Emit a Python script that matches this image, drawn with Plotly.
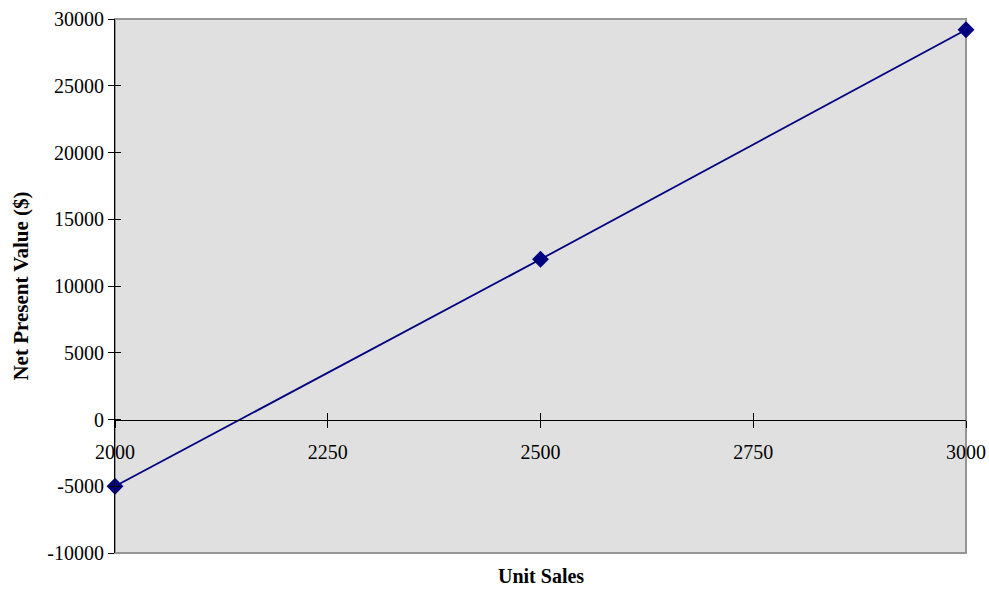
import plotly.graph_objects as go

# Net present value at three unit-sales levels
unit_sales = [2000, 2500, 3000]
npv = [-5000, 12000, 29200]

x_ticks = [2000, 2250, 2500, 2750, 3000]
x_tick_text = ["2000", "2250", "2500", "2750", "3000"]
y_ticks = [-10000, -5000, 0, 5000, 10000, 15000, 20000, 25000, 30000]
y_tick_text = ["-10000", "-5000", "0", "5000", "10000", "15000", "20000", "25000", "30000"]

x_range = [2000, 3000]
y_range = [-10000, 30000]

FONT = "Liberation Serif, Times New Roman, serif"
NAVY = "#000080"

fig = go.Figure()

fig.add_trace(go.Scatter(
    x=unit_sales, y=npv,
    mode="lines+markers",
    line=dict(color=NAVY, width=1.8),
    marker=dict(symbol="diamond", size=13, color=NAVY),
    cliponaxis=False,
    showlegend=False,
    hoverinfo="x+y",
))

# empty trace so the overlay axes (inward half of the crossing ticks) are drawn
fig.add_trace(go.Scatter(x=[], y=[], xaxis="x2", yaxis="y2", showlegend=False))

# position of y = 0 as a fraction of the plot height
zero_pos = (0 - y_range[0]) / (y_range[1] - y_range[0])

fig.update_layout(
    width=989, height=601,
    margin=dict(l=115, r=23, t=19, b=48),
    paper_bgcolor="white",
    plot_bgcolor="rgb(224,224,224)",
    font=dict(family=FONT, size=20, color="black"),
    xaxis=dict(
        range=x_range, tickvals=x_ticks, ticktext=x_tick_text,
        anchor="free", position=zero_pos, automargin=False,
        showline=True, linecolor="black", linewidth=1,
        ticks="outside", ticklen=7, tickcolor="black", tickwidth=1,
        ticklabelstandoff=7,
        showgrid=False, zeroline=False,
    ),
    xaxis2=dict(
        range=x_range, tickvals=x_ticks, overlaying="x",
        anchor="free", position=zero_pos, automargin=False,
        showline=False, ticks="inside", ticklen=7, tickcolor="black", tickwidth=1,
        showticklabels=False, showgrid=False, zeroline=False,
    ),
    yaxis=dict(
        range=y_range, tickvals=y_ticks, ticktext=y_tick_text, automargin=False,
        showline=True, linecolor="black", linewidth=1,
        ticks="outside", ticklen=6, tickcolor="black", tickwidth=1,
        showgrid=False, zeroline=False,
        title=dict(text="<b>Net Present Value ($)</b>", font=dict(size=21), standoff=12),
    ),
    yaxis2=dict(
        range=y_range, tickvals=y_ticks, overlaying="y", anchor="x", side="left",
        automargin=False,
        showline=False, ticks="inside", ticklen=6, tickcolor="black", tickwidth=1,
        showticklabels=False, showgrid=False, zeroline=False,
    ),
    shapes=[dict(
        type="rect", xref="x domain", yref="y domain",
        x0=0, x1=1, y0=0, y1=1,
        line=dict(color="rgb(150,150,150)", width=2),
        layer="below",
    )],
    annotations=[dict(
        text="<b>Unit Sales</b>", xref="x domain", yref="paper",
        x=0.5, y=0, yshift=-10, yanchor="top", xanchor="center",
        showarrow=False, font=dict(size=20),
    )],
)

fig.write_html("out.html")
